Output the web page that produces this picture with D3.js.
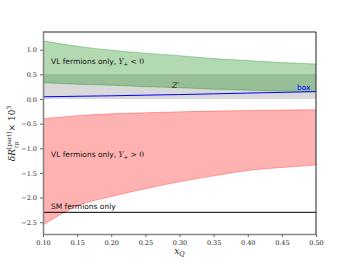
<!DOCTYPE html>
<html><head><meta charset="utf-8">
<script src="https://cdn.jsdelivr.net/npm/d3@7"></script>
<style>body{margin:0;background:#fff}svg{display:block}</style>
</head><body><svg id="c" width="352" height="264"></svg>
<script>
const xQ = [0.10,0.15,0.20,0.25,0.30,0.35,0.40,0.45,0.50];
const greenUpper = [1.18,1.07,0.99,0.93,0.88,0.82,0.78,0.74,0.71];
const greenLower = [0.33,0.30,0.28,0.25,0.23,0.20,0.18,0.16,0.15];
const grayUpper = [0.51,0.51,0.51,0.51,0.51,0.51,0.51,0.51,0.51];
const grayLower = [0.0,0.0,0.0,0.0,0.0,0.0,0.0,0.0,0.0];
const boxLine = [0.045,0.055,0.065,0.078,0.09,0.105,0.12,0.135,0.15];
const redUpper = [-0.40,-0.34,-0.30,-0.28,-0.26,-0.245,-0.235,-0.225,-0.22];
const redLower = [-2.56,-2.17,-1.98,-1.82,-1.68,-1.56,-1.45,-1.39,-1.34];
const smValue = -2.30;
const xTicks = [0.10,0.15,0.20,0.25,0.30,0.35,0.40,0.45,0.50];
const yTicks = [1.0,0.5,0.0,-0.5,-1.0,-1.5,-2.0,-2.5];

const W=352,H=264,m={l:43,r:36,t:32,b:30};
const svg=d3.select('#c');
const x=d3.scaleLinear().domain([0.1,0.5]).range([m.l,W-m.r]);
const y=d3.scaleLinear().domain([-2.74,1.36]).range([H-m.b,m.t]);

const band=(up,lo)=>d3.area().x((d,i)=>x(xQ[i])).y0((d,i)=>y(lo[i])).y1((d,i)=>y(up[i])).curve(d3.curveMonotoneX)(xQ);
const edge=(v)=>d3.line().x((d,i)=>x(xQ[i])).y((d,i)=>y(v[i])).curve(d3.curveMonotoneX)(xQ);

svg.append('path').attr('d',band(grayUpper,grayLower)).attr('fill','gray').attr('fill-opacity',0.3);
svg.append('path').attr('d',band(greenUpper,greenLower)).attr('fill','green').attr('fill-opacity',0.3);
svg.append('path').attr('d',band(redUpper,redLower)).attr('fill','red').attr('fill-opacity',0.3);
[[greenUpper,'green'],[greenLower,'green'],[redUpper,'red'],[redLower,'red']].forEach(([v,c])=>
  svg.append('path').attr('d',edge(v)).attr('fill','none').attr('stroke',c).attr('stroke-opacity',0.3).attr('stroke-width',1));
svg.append('path').attr('d',edge(boxLine)).attr('fill','none').attr('stroke','blue').attr('stroke-width',1);
svg.append('line').attr('x1',x(0.1)).attr('x2',x(0.5)).attr('y1',y(smValue)).attr('y2',y(smValue)).attr('stroke','black').attr('stroke-width',1);

// axes
const xa=svg.append('g').attr('transform',`translate(0,${H-m.b})`)
 .call(d3.axisBottom(x).tickValues(xTicks).tickFormat(d3.format('.2f')).tickSize(3).tickSizeOuter(0));
const ya=svg.append('g').attr('transform',`translate(${m.l},0)`)
 .call(d3.axisLeft(y).tickValues(yTicks).tickFormat(d=>d3.format('.1f')(d).replace('-','\u2212')).tickSize(3).tickSizeOuter(0));
[xa,ya].forEach(g=>{g.select('.domain').attr('stroke','#888').attr('stroke-width',1.6);
 g.selectAll('.tick line').attr('stroke','#666');
 g.selectAll('text').attr('font-family','DejaVu Serif').attr('font-size',6.5).attr('fill','#222');});
svg.append('path').attr('d',`M${m.l},${m.t}H${W-m.r}V${H-m.b}`).attr('fill','none').attr('stroke','#222').attr('stroke-width',1);

// labels
const sans='DejaVu Sans';
function lab(tx,ty,pre,sign,col){
  const t=svg.append('text').attr('x',tx).attr('y',ty).attr('font-family',sans).attr('font-size',7.5).attr('fill',col||'#111');
  t.append('tspan').text(pre);
  if(sign){
    t.append('tspan').attr('font-family','DejaVu Serif').attr('font-style','italic').text('Y');
    t.append('tspan').attr('font-size',5.5).attr('dy',2).text('+');
    t.append('tspan').attr('dy',-2).attr('font-family','DejaVu Serif').text(' '+sign+' 0');
  }
}
lab(51,64,'VL fermions only, ','<');
lab(51,157,'VL fermions only, ','>');
lab(51,209,'SM fermions only');
svg.append('text').attr('x',172).attr('y',88).attr('font-family','DejaVu Serif').attr('font-style','italic').attr('font-size',7.5).attr('fill','#222').text('Z\u2032');
svg.append('text').attr('x',297).attr('y',90).attr('font-family',sans).attr('font-size',7.5).attr('fill','blue').text('box');

// axis titles
const xl=svg.append('text').attr('x',x(0.3)).attr('y',254).attr('text-anchor','middle').attr('font-family','DejaVu Serif').attr('font-size',9).attr('fill','#222');
xl.append('tspan').attr('font-style','italic').text('x');
xl.append('tspan').attr('font-style','italic').attr('font-size',6.5).attr('dy',2).text('Q');
const yl=svg.append('text').attr('transform',`translate(15,${y(-0.7)}) rotate(-90)`).attr('text-anchor','middle').attr('font-family','DejaVu Serif').attr('font-size',9).attr('fill','#222');
yl.append('tspan').attr('font-style','italic').text('\u03B4R');
yl.append('tspan').attr('font-size',6).attr('dy',-4).text('[part]');
yl.append('tspan').attr('font-size',6).attr('font-style','italic').attr('dx',-17).attr('dy',7).text('\u03C4\u03BC');
yl.append('tspan').attr('dx',10).attr('dy',-3).text('\u00D7 10');
yl.append('tspan').attr('font-size',6).attr('dy',-4).text('3');
</script></body></html>
